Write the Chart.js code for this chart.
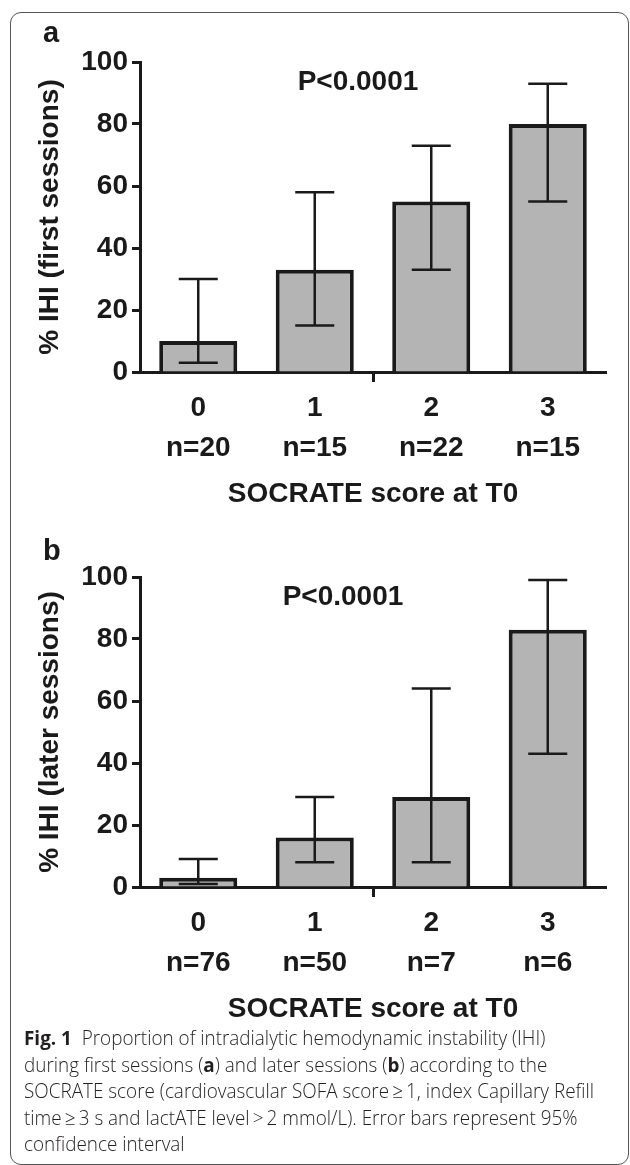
<!DOCTYPE html>
<html>
<head>
<meta charset="utf-8">
<script src="https://cdn.jsdelivr.net/npm/chart.js@4.4.0/dist/chart.umd.min.js"></script>
<style>
  html, body { margin: 0; padding: 0; background: #fff; }
  body { width: 630px; height: 1165px; position: relative; overflow: hidden; }
  .card { position: absolute; left: 10px; top: 12px; width: 619px; height: 1153px;
          border: 1.5px solid #555; border-radius: 11px; box-sizing: border-box; }
  .panel { position: absolute; left: 0; width: 630px; height: 520px; }
  .letter { position: absolute; left: 43px; font: bold 29px "Liberation Sans", Arial, sans-serif; color: #1a1a1a; }
  .caption { position: absolute; left: 24px; top: 1025px; font-family: "Open Sans", "Noto Sans", sans-serif;
             font-size: 20px; font-weight: 300; line-height: 26.5px; color: #231f20; white-space: nowrap;
             transform-origin: 0 0; }
  .caption b { font-weight: 700; }
</style>
</head>
<body>
<div class="card"></div>

<canvas id="chartA" class="panel" style="top:0" width="630" height="520"></canvas>
<canvas id="chartB" class="panel" style="top:515px" width="630" height="520"></canvas>
<div class="letter" style="top:16px">a</div>
<div class="letter" style="top:534px">b</div>

<div class="caption" id="caption">
  <span><b>Fig. 1</b>&nbsp; Proportion of intradialytic hemodynamic instability (IHI)</span><br>
  <span>during first sessions (<b>a</b>) and later sessions (<b>b</b>) according to the</span><br>
  <span id="longLine">SOCRATE score (cardiovascular SOFA score&thinsp;≥&thinsp;1, index Capillary Refill</span><br>
  <span>time&thinsp;≥&thinsp;3 s and lactATE level&thinsp;&gt;&thinsp;2 mmol/L). Error bars represent 95%</span><br>
  <span>confidence interval</span>
</div>

<script>
// categories (SOCRATE score) and group sizes
const categories = ["0", "1", "2", "3"];
const nFirst = ["n=20", "n=15", "n=22", "n=15"];
const nLater = ["n=76", "n=50", "n=7", "n=6"];

// % IHI, first sessions, with 95% CI
const ihiFirst = [10, 33, 55, 80];
const lowFirst = [3, 15, 33, 55];
const highFirst = [30, 58, 73, 93];

// % IHI, later sessions, with 95% CI
const ihiLater = [3, 16, 29, 83];
const lowLater = [1, 8, 8, 43];
const highLater = [9, 29, 64, 99];

const yTicks = [0, 20, 40, 60, 80, 100];

const INK = "#1a1a1a";
const FONT = "'Liberation Sans', Arial, sans-serif";

/* error bars + p value, drawn from the scales */
const errorBars = {
  id: "errorBars",
  afterDatasetsDraw(chart, args, opts) {
    const ctx = chart.ctx;
    const y = chart.scales.y;
    const meta = chart.getDatasetMeta(0);
    ctx.save();
    ctx.strokeStyle = INK;
    ctx.lineWidth = 2.5;
    meta.data.forEach((bar, i) => {
      const yl = y.getPixelForValue(opts.low[i]);
      const yh = y.getPixelForValue(opts.high[i]);
      const x = bar.x;
      const half = bar.width / 4;
      ctx.beginPath();
      ctx.moveTo(x, yl); ctx.lineTo(x, yh);
      ctx.moveTo(x - half, yl); ctx.lineTo(x + half, yl);
      ctx.moveTo(x - half, yh); ctx.lineTo(x + half, yh);
      ctx.stroke();
    });
    // p value
    ctx.fillStyle = INK;
    ctx.font = "bold 28px " + FONT;
    ctx.textAlign = "center";
    ctx.textBaseline = "middle";
    ctx.fillText(opts.pText, opts.pX, chart.chartArea.top + 20);
    ctx.restore();
  }
};

function makeChart(id, values, low, high, nLabels, yTitle, pX) {
  const labels = categories.map((c, i) => [c, nLabels[i]]);
  return new Chart(document.getElementById(id), {
    type: "bar",
    data: {
      labels: labels,
      datasets: [{
        data: values,
        backgroundColor: "#b4b4b4",
        borderColor: INK,
        borderWidth: 4,
        barPercentage: 0.67,
        categoryPercentage: 1.0
      }]
    },
    options: {
      responsive: false,
      animation: false,
      devicePixelRatio: 1,
      layout: { padding: { top: 62, right: 24, left: 0, bottom: 0 } },
      plugins: {
        legend: { display: false },
        tooltip: { enabled: false },
        errorBars: { low: low, high: high, pText: "P<0.0001", pX: pX }
      },
      scales: {
        x: {
          offset: true,
          grid: {
            offset: true,
            drawOnChartArea: false,
            drawTicks: true,
            tickLength: 10,
            tickWidth: 3,
            tickColor: ctx => ctx.index === 2 ? INK : "rgba(0,0,0,0)"
          },
          border: { display: true, color: INK, width: 3 },
          ticks: {
            color: INK,
            padding: 6,
            maxRotation: 0,
            autoSkip: false,
            font: { family: FONT, size: 28, weight: "bold", lineHeight: 1.43 }
          },
          title: {
            display: true,
            text: "SOCRATE score at T0",
            color: INK,
            font: { family: FONT, size: 28, weight: "bold" },
            padding: { top: 0, bottom: 9 }
          },
          afterFit: s => { s.height = 148; }
        },
        y: {
          min: 0,
          max: 100,
          afterBuildTicks: s => { s.ticks = yTicks.map(v => ({ value: v })); },
          grid: {
            drawOnChartArea: false,
            drawTicks: true,
            tickLength: 8,
            tickWidth: 3,
            tickColor: INK
          },
          border: { display: true, color: INK, width: 3 },
          ticks: {
            color: INK,
            padding: 4,
            font: { family: FONT, size: 28, weight: "bold" }
          },
          title: {
            display: true,
            text: yTitle,
            color: INK,
            font: { family: FONT, size: 28, weight: "bold" },
            padding: { top: 33, bottom: 0 }
          },
          afterFit: s => { s.width = 140; }
        }
      }
    },
    plugins: [errorBars]
  });
}

makeChart("chartA", ihiFirst, lowFirst, highFirst, nFirst, "% IHI (first sessions)", 358);
makeChart("chartB", ihiLater, lowLater, highLater, nLater, "% IHI (later sessions)", 343);

// squeeze the caption to the narrow journal face width
const cap = document.getElementById("caption");
const w = document.getElementById("longLine").getBoundingClientRect().width;
cap.style.transform = "scaleX(" + (570 / w) + ")";
</script>
</body>
</html>
